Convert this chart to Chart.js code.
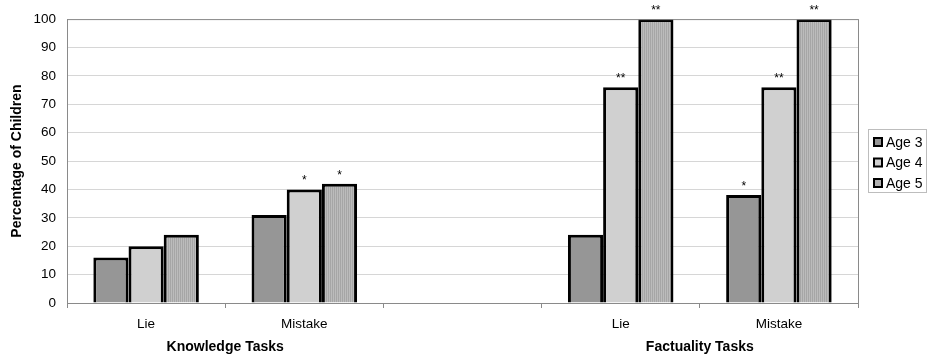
<!DOCTYPE html>
<html>
<head>
<meta charset="utf-8">
<script src="https://cdn.jsdelivr.net/npm/chart.js@4"></script>
<style>
  html, body { margin: 0; padding: 0; background: #fff; }
  canvas { display: block; }
</style>
</head>
<body>
<canvas id="chart" width="927" height="360"></canvas>
<script>
// --- data ---
const categories = ['Lie', 'Mistake', '', 'Lie', 'Mistake'];
const groupTitles = ['Knowledge Tasks', 'Factuality Tasks'];
const seriesNames = ['Age 3', 'Age 4', 'Age 5'];
const age3 = [16, 31, null, 24, 38];
const age4 = [20, 40, null, 76, 76];
const age5 = [24, 42, null, 100, 100];
// significance marks above each bar
const age3Marks = ['', '', '', '', '*'];
const age4Marks = ['', '*', '', '**', '**'];
const age5Marks = ['', '*', '', '**', '**'];

const FONT = '"Liberation Sans", Arial, sans-serif';

// fine vertical texture for the Age 5 bars
function makePattern() {
    const c = document.createElement('canvas');
    c.width = 2; c.height = 2;
    const g = c.getContext('2d');
    g.fillStyle = '#bcbcbc'; g.fillRect(0, 0, 2, 2);
    g.fillStyle = '#a6a6a6'; g.fillRect(0, 0, 1, 2);
    return g.createPattern(c, 'repeat');
}

const fills = ['#969696', '#d0d0d0', makePattern()];
const legendSwatch = ['#969696', '#d0d0d0', '#b2b2b2'];
const marks = [age3Marks, age4Marks, age5Marks];

const extras = {
    id: 'extras',
    afterDraw(chart) {
        const ctx = chart.ctx;
        const area = chart.chartArea;
        const x = chart.scales.x;
        ctx.save();

        // plot frame
        ctx.strokeStyle = '#8a8a8a';
        ctx.lineWidth = 1;
        ctx.strokeRect(area.left + 0.5, area.top + 0.5, area.right - area.left, area.bottom - area.top);

        // significance stars
        ctx.fillStyle = '#000';
        ctx.font = '12px ' + FONT;
        ctx.textAlign = 'center';
        ctx.textBaseline = 'alphabetic';
        marks.forEach((m, i) => {
            const meta = chart.getDatasetMeta(i);
            m.forEach((s, j) => {
                if (!s) return;
                const bar = meta.data[j];
                ctx.fillText(s, bar.x, bar.y - 5);
            });
        });

        // group titles under each pair of categories
        ctx.font = 'bold 14px ' + FONT;
        ctx.textBaseline = 'middle';
        const mid1 = (x.getPixelForValue(0) + x.getPixelForValue(1)) / 2;
        const mid2 = (x.getPixelForValue(3) + x.getPixelForValue(4)) / 2;
        ctx.fillText(groupTitles[0], mid1, 347);
        ctx.fillText(groupTitles[1], mid2, 347);

        // legend box
        const lx = 868, ly = 129, lw = 58, lh = 63;
        ctx.strokeStyle = '#bdbdbd';
        ctx.lineWidth = 1;
        ctx.strokeRect(lx + 0.5, ly + 0.5, lw, lh);
        ctx.font = '14px ' + FONT;
        ctx.textAlign = 'left';
        seriesNames.forEach((name, i) => {
            const cy = ly + 13 + i * 20.5;
            ctx.fillStyle = legendSwatch[i];
            ctx.fillRect(874, cy - 4, 8, 8);
            ctx.strokeStyle = '#000';
            ctx.lineWidth = 2;
            ctx.strokeRect(874, cy - 4, 8, 8);
            ctx.fillStyle = '#000';
            ctx.fillText(name, 886, cy + 1);
        });
        ctx.restore();
    }
};

new Chart(document.getElementById('chart'), {
    type: 'bar',
    data: {
        labels: categories,
        datasets: seriesNames.map((name, i) => ({
            label: name,
            data: [age3, age4, age5][i],
            backgroundColor: fills[i],
            borderColor: '#000',
            borderWidth: 3,
            borderSkipped: 'bottom',
            categoryPercentage: 0.667,
            barPercentage: 1
        }))
    },
    options: {
        responsive: false,
        animation: false,
        devicePixelRatio: 1,
        layout: { padding: { top: 19, right: 69, left: 0, bottom: 0 } },
        plugins: { legend: { display: false }, tooltip: { enabled: false } },
        scales: {
            x: {
                offset: true,
                grid: { drawOnChartArea: false, color: '#8a8a8a', tickLength: 5 },
                border: { color: '#8a8a8a' },
                ticks: { color: '#000', font: { family: FONT, size: 13.5 }, padding: 8, autoSkip: false, maxRotation: 0 },
                afterFit(scale) { scale.height = 57; }
            },
            y: {
                min: 0,
                max: 100,
                grid: { color: '#d6d6d6', drawTicks: false },
                border: { color: '#8a8a8a' },
                ticks: { stepSize: 10, autoSkip: false, color: '#000', font: { family: FONT, size: 13.5 }, padding: 11 },
                title: {
                    display: true,
                    text: 'Percentage of Children',
                    color: '#000',
                    font: { family: FONT, size: 14, weight: 'bold' },
                    padding: { top: 9, bottom: 0 }
                },
                afterFit(scale) { scale.width = 67; }
            }
        }
    },
    plugins: [extras]
});
</script>
</body>
</html>
